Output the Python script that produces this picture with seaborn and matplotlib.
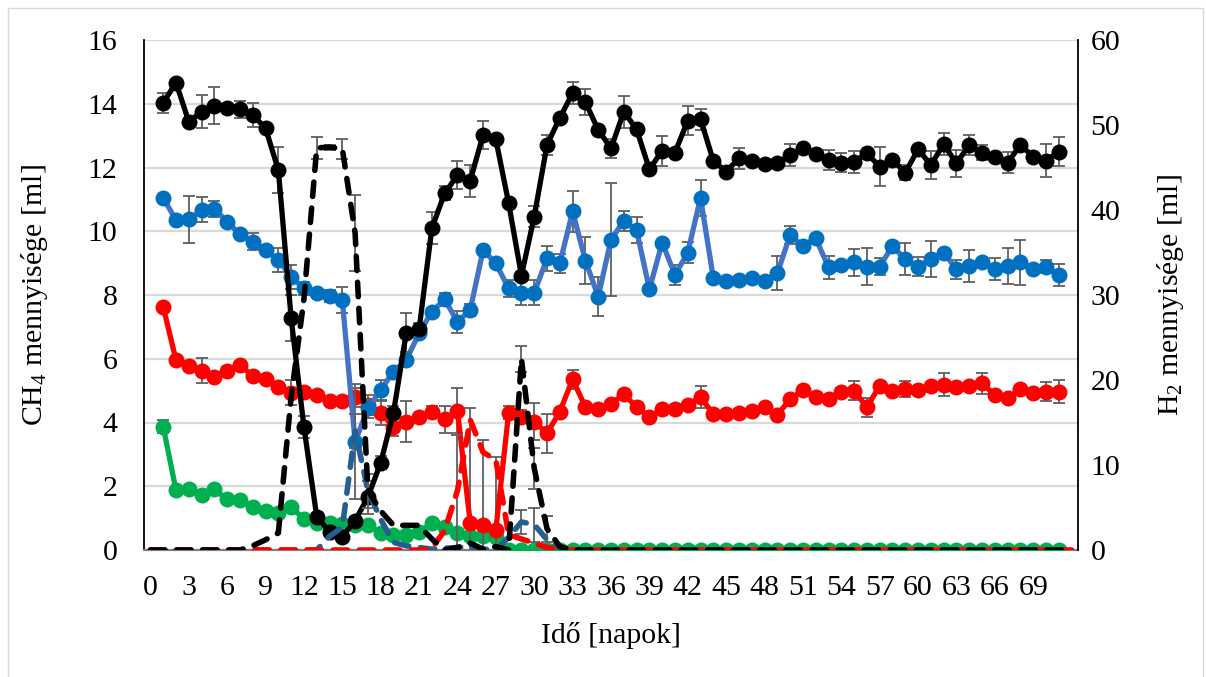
import numpy as np
import pandas as pd
import matplotlib
matplotlib.use("Agg")
import matplotlib.pyplot as plt
from matplotlib.patches import Rectangle
import seaborn as sns

# ---------------- data ----------------
days_ch4 = list(range(1, 72))          # CH4 measured on days 1..71
days_h2 = list(range(0, 73))           # H2 series on days 0..72
xtick_days = list(range(0, 70, 3))

black_ch4 = [14.03, 14.66, 13.44, 13.75, 13.93, 13.88, 13.83, 13.65, 13.23, 11.92,
             7.28, 3.86, 1.05, 0.57, 0.42, 0.92, 1.66, 2.74, 4.31, 6.82,
             6.92, 10.1, 11.19, 11.76, 11.59, 13.02, 12.88, 10.88, 8.61, 10.46,
             12.71, 13.56, 14.33, 14.05, 13.18, 12.6, 13.75, 13.2, 11.94, 12.53,
             12.47, 13.47, 13.51, 12.21, 11.87, 12.29, 12.2, 12.1, 12.13, 12.39,
             12.6, 12.42, 12.24, 12.15, 12.18, 12.44, 12.03, 12.24, 11.84, 12.57,
             12.08, 12.73, 12.13, 12.71, 12.47, 12.34, 12.15, 12.71, 12.34, 12.21,
             12.5]
black_ch4_err = [0.31, 0.1, 0.1, 0.52, 0.58, 0.1, 0.27, 0.37, 0.1, 0.72,
                 0.72, 0.34, 0.1, 0.1, 0.1, 0.1, 0.52, 0.2, 0.2, 0.6,
                 0.2, 0.5, 0.22, 0.44, 0.5, 0.45, 0.1, 0.1, 0.1, 0.32,
                 0.31, 0.1, 0.35, 0.4, 0.1, 0.29, 0.5, 0.1, 0.1, 0.47,
                 0.1, 0.46, 0.34, 0.1, 0.1, 0.33, 0.1, 0.1, 0.1, 0.35,
                 0.1, 0.1, 0.31, 0.29, 0.35, 0.1, 0.62, 0.1, 0.24, 0.1,
                 0.44, 0.35, 0.42, 0.31, 0.25, 0.1, 0.33, 0.1, 0.1, 0.52,
                 0.45]

blue_ch4 = [11.05, 10.35, 10.37, 10.67, 10.7, 10.3, 9.9, 9.67, 9.41, 9.1,
            8.56, 8.21, 8.05, 7.97, 7.84, 3.4, 4.44, 5.02, 5.6, 5.96,
            6.8, 7.48, 7.86, 7.16, 7.53, 9.41, 8.99, 8.21, 8.07, 8.07,
            9.15, 8.99, 10.62, 9.08, 7.95, 9.73, 10.33, 10.04, 8.18, 9.64,
            8.63, 9.33, 11.05, 8.52, 8.45, 8.47, 8.52, 8.45, 8.68, 9.88,
            9.54, 9.78, 8.87, 8.94, 9.02, 8.89, 8.89, 9.54, 9.12, 8.89,
            9.12, 9.33, 8.81, 8.91, 9.02, 8.81, 8.91, 9.02, 8.81, 8.89,
            8.63]
blue_ch4_err = [0.1, 0.1, 0.75, 0.39, 0.25, 0.1, 0.1, 0.26, 0.1, 0.38,
                0.37, 0.2, 0.1, 0.2, 0.42, 1.8, 0.31, 0.3, 0.1, 0.1,
                0.1, 0.1, 0.2, 0.35, 0.2, 0.1, 0.1, 0.26, 0.37, 0.39,
                0.39, 0.31, 0.65, 0.73, 0.6, 1.77, 0.31, 0.42, 0.1, 0.1,
                0.31, 0.34, 0.57, 0.1, 0.1, 0.1, 0.1, 0.1, 0.53, 0.27,
                0.1, 0.1, 0.36, 0.1, 0.43, 0.57, 0.26, 0.1, 0.5, 0.3,
                0.57, 0.1, 0.3, 0.5, 0.1, 0.34, 0.57, 0.7, 0.1, 0.2,
                0.34]

red_ch4 = [7.63, 5.96, 5.77, 5.63, 5.44, 5.63, 5.8, 5.46, 5.36, 5.12,
           4.94, 4.97, 4.86, 4.69, 4.69, 4.79, 4.55, 4.31, 3.87, 4.03,
           4.18, 4.34, 4.1, 4.37, 0.84, 0.78, 0.63, 4.31, 4.18, 4.03,
           3.66, 4.34, 5.36, 4.48, 4.41, 4.58, 4.89, 4.48, 4.18, 4.41,
           4.41, 4.55, 4.79, 4.27, 4.27, 4.31, 4.37, 4.48, 4.24, 4.73,
           5.02, 4.79, 4.73, 4.97, 5.0, 4.48, 5.15, 5.0, 5.04, 5.02,
           5.15, 5.18, 5.1, 5.15, 5.23, 4.86, 4.76, 5.04, 4.92, 4.97,
           4.97]
red_ch4_err = [0.1, 0.1, 0.1, 0.39, 0.1, 0.1, 0.1, 0.1, 0.1, 0.1,
               0.4, 0.1, 0.1, 0.1, 0.1, 0.3, 0.3, 0.38, 0.3, 0.63,
               0.1, 0.18, 0.42, 0.7, 3.6, 2.67, 2.3, 0.2, 0.2, 0.57,
               0.62, 0.1, 0.3, 0.1, 0.1, 0.1, 0.1, 0.1, 0.1, 0.1,
               0.1, 0.1, 0.35, 0.1, 0.1, 0.1, 0.1, 0.1, 0.1, 0.1,
               0.1, 0.1, 0.1, 0.1, 0.3, 0.3, 0.1, 0.1, 0.25, 0.1,
               0.1, 0.36, 0.1, 0.1, 0.33, 0.1, 0.1, 0.1, 0.1, 0.29,
               0.36]

green_ch4 = [3.87, 1.88, 1.9, 1.73, 1.9, 1.59, 1.57, 1.36, 1.23, 1.15,
             1.36, 0.96, 0.86, 0.84, 0.82, 0.8, 0.78, 0.54, 0.47, 0.47,
             0.57, 0.84, 0.73, 0.52, 0.45, 0.44, 0.4, 0, 0, 0,
             0, 0, 0, 0, 0, 0, 0, 0, 0, 0,
             0, 0, 0, 0, 0, 0, 0, 0, 0, 0,
             0, 0, 0, 0, 0, 0, 0, 0, 0, 0,
             0, 0, 0, 0, 0, 0, 0, 0, 0, 0,
             0]
green_ch4_err = [0.2, 0.05, 0.05, 0.05, 0.05, 0.05, 0.05, 0.05, 0.05, 0.05,
                 0.05, 0.05, 0.05, 0.05, 0.05, 0.05, 0.05, 0.05, 0.05, 0.05,
                 0.05, 0.05, 0.05, 0.05, 0.05, 0.05, 0.05, 0, 0, 0,
                 0, 0, 0, 0, 0, 0, 0, 0, 0, 0,
                 0, 0, 0, 0, 0, 0, 0, 0, 0, 0,
                 0, 0, 0, 0, 0, 0, 0, 0, 0, 0,
                 0, 0, 0, 0, 0, 0, 0, 0, 0, 0,
                 0]

black_h2 = [0, 0, 0, 0, 0, 0, 0, 0, 0.5, 1.2,
            2.0, 18.0, 29.5, 47.3, 47.4, 47.2, 37.3, 7.0, 4.6, 2.9,
            2.9, 2.9, 1.3, 0.0, 0.3, 0.8, 0.1, 0.4, 0.0, 22.5,
            9.6, 2.5, 0.4, 0, 0, 0, 0, 0, 0, 0,
            0, 0, 0, 0, 0, 0, 0, 0, 0, 0,
            0, 0, 0, 0, 0, 0, 0, 0, 0, 0,
            0, 0, 0, 0, 0, 0, 0, 0, 0, 0,
            0, 0, 0]
black_h2_err = [0, 0, 0, 0, 0, 0, 0, 0, 0, 0,
                0, 0, 0, 1.3, 0.3, 1.2, 4.5, 2.0, 0, 0,
                0, 0, 0, 0, 0, 0, 0, 0, 0, 1.5,
                2.4, 1.5, 0, 0, 0, 0, 0, 0, 0, 0,
                0, 0, 0, 0, 0, 0, 0, 0, 0, 0,
                0, 0, 0, 0, 0, 0, 0, 0, 0, 0,
                0, 0, 0, 0, 0, 0, 0, 0, 0, 0,
                0, 0, 0]

blue_h2 = [0, 0, 0, 0, 0, 0, 0, 0, 0, 0,
           0, 0, 0, 0.0, 1.6, 2.7, 14.0, 7.0, 3.6, 0.9,
           0.5, 0.3, 0.1, 0.2, 0.3, 0.4, 0.1, 0.0, 1.5, 3.3,
           3.0, 1.2, 0.2, 0, 0, 0, 0, 0, 0, 0,
           0, 0, 0, 0, 0, 0, 0, 0, 0, 0,
           0, 0, 0, 0, 0, 0, 0, 0, 0, 0,
           0, 0, 0, 0, 0, 0, 0, 0, 0, 0,
           0, 0, 0]
blue_h2_err = [0, 0, 0, 0, 0, 0, 0, 0, 0, 0,
               0, 0, 0, 0, 0, 0, 2.0, 0, 0, 0,
               0, 0, 0, 0, 0, 0, 0, 0, 0, 1.4,
               2.0, 0, 0, 0, 0, 0, 0, 0, 0, 0,
               0, 0, 0, 0, 0, 0, 0, 0, 0, 0,
               0, 0, 0, 0, 0, 0, 0, 0, 0, 0,
               0, 0, 0, 0, 0, 0, 0, 0, 0, 0,
               0, 0, 0]

red_h2 = [0, 0, 0, 0, 0, 0, 0, 0, 0, 0,
          0, 0, 0, 0, 0, 0, 0, 0, 0, 0,
          0, 0, 0.2, 2.3, 7.0, 15.3, 11.5, 10.6, 1.8, 1.3,
          0.8, 0.3, 0, 0, 0, 0, 0, 0, 0, 0,
          0, 0, 0, 0, 0, 0, 0, 0, 0, 0,
          0, 0, 0, 0, 0, 0, 0, 0, 0, 0,
          0, 0, 0, 0, 0, 0, 0, 0, 0, 0,
          0, 0, 0]
red_h2_err = [0, 0, 0, 0, 0, 0, 0, 0, 0, 0,
              0, 0, 0, 0, 0, 0, 0, 0, 0, 0,
              0, 0, 0, 0, 6.5, 0, 0, 0, 0, 0,
              0, 0, 0, 0, 0, 0, 0, 0, 0, 0,
              0, 0, 0, 0, 0, 0, 0, 0, 0, 0,
              0, 0, 0, 0, 0, 0, 0, 0, 0, 0,
              0, 0, 0, 0, 0, 0, 0, 0, 0, 0,
              0, 0, 0]

# ---------------- style ----------------
sns.set_theme(style="white")
plt.rcParams["font.family"] = ["Liberation Serif", "DejaVu Serif"]
plt.rcParams["mathtext.fontset"] = "custom"
plt.rcParams["mathtext.rm"] = "Liberation Serif"
plt.rcParams["mathtext.it"] = "Liberation Serif:italic"
FS = 21.5
ERR_C = "#5F5F5F"

fig = plt.figure(figsize=(12.06, 6.77), dpi=100)
fig.patches.append(Rectangle((8 / 1206, -0.01), (1203 - 8) / 1206, 1.01 - 8 / 677,
                             transform=fig.transFigure, fill=False,
                             edgecolor="#D9D9D9", linewidth=1.0))
ax = fig.add_axes([144 / 1206, 1 - 550 / 677, (1078 - 144) / 1206, (550 - 40) / 677])
ax2 = ax.twinx()

solid = [
    (green_ch4, green_ch4_err, "#00B050", "#00B050", 2),
    (red_ch4, red_ch4_err, "#FF0000", "#FF0000", 3),
    (blue_ch4, blue_ch4_err, "#4472C4", "#0070C0", 4),
    (black_ch4, black_ch4_err, "#000000", "#000000", 5),
]
x1 = np.array(days_ch4)
for vals, err, lc, mc, z in solid:
    v = np.array(vals, dtype=float)
    e = np.array(err, dtype=float)
    m = e > 0
    ax.errorbar(x1[m], v[m], yerr=e[m], fmt="none", ecolor=ERR_C, elinewidth=1.3,
                capsize=4, capthick=1.3, zorder=z + 0.5)
    sns.lineplot(x=x1, y=v, ax=ax, color=lc, linewidth=3.8, marker="o",
                 markersize=11.5, markerfacecolor=mc, markeredgecolor=mc,
                 markeredgewidth=0, errorbar=None, sort=False, zorder=z + 1)

dashed = [
    (blue_h2, blue_h2_err, "#255E91", 2),
    (red_h2, red_h2_err, "#FF0000", 3),
    (black_h2, black_h2_err, "#000000", 4),
]
x2 = np.array(days_h2)
for vals, err, c, z in dashed:
    v = np.array(vals, dtype=float)
    e = np.array(err, dtype=float)
    m = e > 0
    if m.any():
        ax2.errorbar(x2[m], v[m], yerr=e[m], fmt="none", ecolor=ERR_C, elinewidth=1.3,
                     capsize=4, capthick=1.3, zorder=z)
    sns.lineplot(x=x2, y=v, ax=ax2, color=c, linewidth=4.0,
                 linestyle=(0, (2.6, 2.1)), dash_capstyle="round",
                 errorbar=None, sort=False, zorder=z + 0.5)

# ---------------- axes ----------------
ax.set_xlim(-0.5, 72.5)
ax.set_ylim(0, 16)
ax2.set_ylim(0, 60)
ax.set_xticks(xtick_days)
ax.set_xticklabels([str(d) for d in xtick_days])
ax.set_yticks(range(0, 17, 2))
ax2.set_yticks(range(0, 61, 10))

ax.set_axisbelow(True)
ax.yaxis.grid(True, color="#D9D9D9", linewidth=1.6)
ax.xaxis.grid(False)

ax.spines["top"].set_visible(False)
ax.spines["right"].set_visible(False)
ax.spines["left"].set_color("#000000")
ax.spines["left"].set_linewidth(1.3)
ax.spines["bottom"].set_color("#808080")
ax.spines["bottom"].set_linewidth(1.6)
for s in ["top", "left", "bottom"]:
    ax2.spines[s].set_visible(False)
ax2.spines["right"].set_color("#000000")
ax2.spines["right"].set_linewidth(1.3)

ax.tick_params(axis="y", length=0, pad=19, labelsize=FS, colors="#000000")
ax.tick_params(axis="x", length=0, pad=18, labelsize=FS, colors="#000000")
ax2.tick_params(axis="y", length=0, pad=9, labelsize=FS, colors="#000000")

ax.set_xlabel("Idő [napok]", fontsize=FS, color="#000000")
ax.set_ylabel(r"CH$_\mathrm{4}$ mennyisége [ml]", fontsize=FS, color="#000000")
ax2.set_ylabel(r"H$_\mathrm{2}$ mennyisége [ml]", fontsize=FS, color="#000000",
               rotation=90)
ax.xaxis.set_label_coords(0.5, -0.142)
ax.yaxis.set_label_coords(-0.101, 0.5)
ax2.yaxis.set_label_coords(1.082, 0.5)

fig.savefig("out.png", dpi=100)
